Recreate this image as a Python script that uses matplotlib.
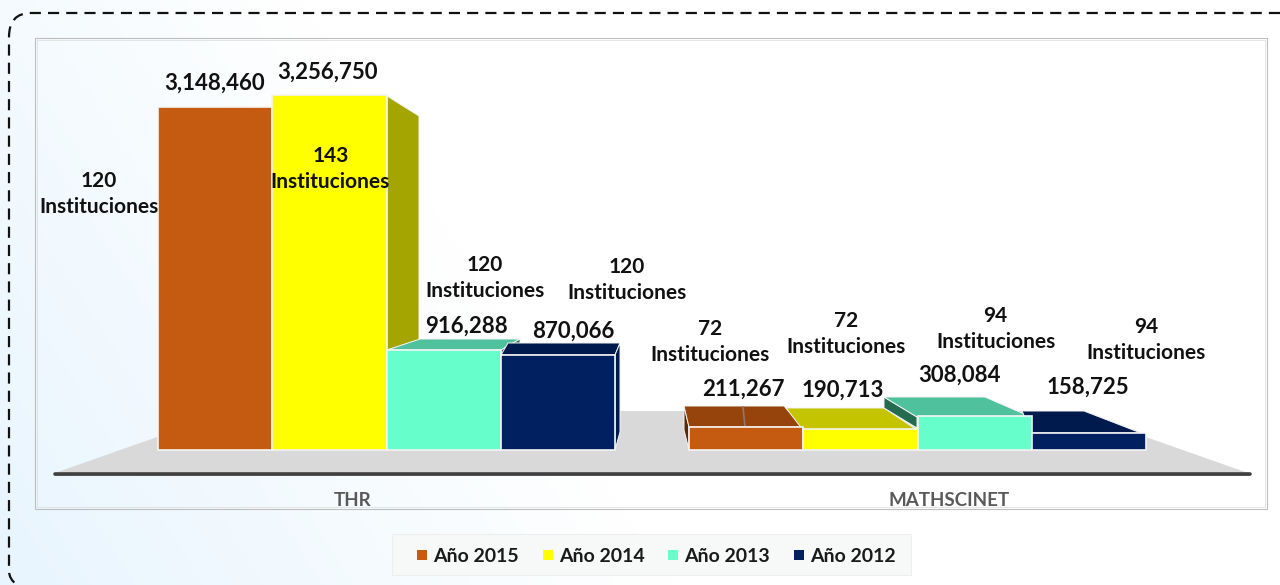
import numpy as np
import matplotlib
matplotlib.use("Agg")
import matplotlib.pyplot as plt
from matplotlib.patches import Polygon, Rectangle, PathPatch
from matplotlib.path import Path
from matplotlib.colors import LinearSegmentedColormap

# Chart data
categories = ["THR", "MATHSCINET"]
years = ["Año 2015", "Año 2014", "Año 2013", "Año 2012"]
thr_values = [3148460, 3256750, 916288, 870066]
math_values = [211267, 190713, 308084, 158725]
thr_inst = [120, 143, 120, 120]
math_inst = [72, 72, 94, 94]

colors = ["#c55a11", "#ffff00", "#66ffcc", "#002060"]
top_colors = ["#96440c", "#c4c400", "#4fc19c", "#001a4d"]

plt.rcParams["font.family"] = ["Lato", "DejaVu Sans"]

W, H = 1280, 585
UNITS_PER_PX = 9170
BASE_PX = 450
BAR_W = 114.3
group_centers = [386.5, 917.5]

fig = plt.figure(figsize=(W / 100, H / 100), dpi=100)

# Pixel axes for the page decoration and the fake 3D faces
px = fig.add_axes([0, 0, 1, 1])
px.set_xlim(0, W)
px.set_ylim(H, 0)
px.axis("off")

# Data axes for the front faces: x in pixels, y in values
ax = fig.add_axes([0, 0, 1, 1], facecolor="none", zorder=2)
ax.set_xlim(0, W)
ax.set_ylim(-(H - BASE_PX) * UNITS_PER_PX, BASE_PX * UNITS_PER_PX)
ax.axis("off")

# Top axes so the text sits over the bars
lab = fig.add_axes([0, 0, 1, 1], facecolor="none", zorder=3)
lab.set_xlim(0, W)
lab.set_ylim(H, 0)
lab.axis("off")

# Background gradient, pale blue bottom left to white
gx, gy = np.meshgrid(np.linspace(0, 1, 320), np.linspace(0, 1, 146))
grad = np.clip(1 - (gx * 1.9 + (1 - gy) * 0.55), 0, 1)
cmap = LinearSegmentedColormap.from_list("bg", ["#ffffff", "#e8f5fe"])
px.imshow(grad, extent=(0, W, H, 0), cmap=cmap, aspect="auto", zorder=0)

# Dashed rounded outline, runs off the right and bottom edges
outline = Path([(1280, 13), (31, 13), (9, 13), (9, 37), (9, 571), (9, 579), (17, 585)],
               [Path.MOVETO, Path.LINETO, Path.CURVE3, Path.CURVE3, Path.LINETO, Path.CURVE3, Path.CURVE3])
px.add_patch(PathPatch(outline, fc="none", ec="#111111", lw=1.6, ls=(0, (5, 3.2)), zorder=1))

# Chart frame (double line)
px.add_patch(Rectangle((35, 38), 1232, 471, fc="none", ec="#bdbdbd", lw=0.8, zorder=1))
px.add_patch(Rectangle((37, 40), 1228, 467, fc="none", ec="#e0e0e0", lw=0.6, zorder=1))

# Floor and axis line
px.add_patch(Polygon([(55, 473), (231, 411), (1072, 411), (1248, 473)], fc="#d9d9d9", ec="none", zorder=1))
px.plot([55, 1250], [475, 475], color="#9a9a9a", lw=1.2, zorder=1.1, solid_capstyle="round")
px.plot([55, 1250], [473.5, 473.5], color="#404040", lw=2.6, zorder=1.2, solid_capstyle="round")

# Depth faces, all in pixels, drawn behind the front faces
white = "#f4f4f4"
faces = [
    ([(387, 96), (419, 116), (419, 340), (387, 350)], "#a5a500"),
    ([(387, 350), (420, 339), (520, 339), (501, 350)], top_colors[2]),
    ([(501, 350), (520, 339), (520, 343), (501, 355)], "#2a6b50"),
    ([(501, 355), (508, 343), (620, 343), (615, 355)], top_colors[3]),
    ([(615, 355), (620, 343), (620, 432), (615, 450)], "#001a4d"),
    ([(689, 427), (684, 406), (684, 430), (689, 450)], "#5a2a08"),
    ([(689, 427), (684, 406), (784, 406), (803, 427)], top_colors[0]),
    ([(803, 430), (786, 408), (884, 408), (917, 430)], top_colors[1]),
    ([(884, 397), (917, 417), (917, 428), (884, 408)], "#256b50"),
    ([(917, 417), (884, 397), (985, 397), (1031, 417)], top_colors[2]),
    ([(1032, 433), (1022, 411), (1084, 411), (1141, 433)], top_colors[3]),
]
for pts, c in faces:
    px.add_patch(Polygon(pts, fc=c, ec=white, lw=0.7, zorder=1.5))
px.plot([743, 745], [407, 427], color="#8a7a70", lw=1.2, zorder=1.6)

# Front faces
offsets = (np.arange(4) - 1.5) * BAR_W
for center, vals in zip(group_centers, [thr_values, math_values]):
    ax.bar(center + offsets, vals, width=BAR_W, color=colors, edgecolor=white, linewidth=1.2, zorder=3)

# Value labels (offset from bar centre / bar top, in pixels)
value_dx = [[-1, -1.5, 23, 15], [-3, -18, -15, -1]]
value_dy = [[-23, -23, -24, -24], [-38, -39, -41, -45]]
# "N Instituciones" label positions (centre x shift, y of the number)
inst_dx = [[-116, 1, 41, 69], [-36, -14, 21, 57]]
inst_y = [[181, 156, 265, 267], [329, 321, 316, 327]]

for g, (center, vals, insts) in enumerate(zip(group_centers, [thr_values, math_values], [thr_inst, math_inst])):
    for i, (v, n) in enumerate(zip(vals, insts)):
        x = center + offsets[i]
        y_top = BASE_PX - v / UNITS_PER_PX
        lab.text(x + value_dx[g][i], y_top + value_dy[g][i], f"{v:,}", ha="center", va="center",
                 fontsize=16, fontweight="bold", color="#111111")
        xt = x + inst_dx[g][i]
        lab.text(xt, inst_y[g][i], str(n), ha="center", va="center",
                 fontsize=15, fontweight="bold", color="#111111")
        lab.text(xt, inst_y[g][i] + 26, "Instituciones", ha="center", va="center",
                 fontsize=15, fontweight="bold", color="#111111")

# Category labels
for lab_name, x in zip(categories, [353, 949]):
    lab.text(x, 501, lab_name, ha="center", va="center", fontsize=13.5, fontweight="bold", color="#595959")

# Legend
px.add_patch(Rectangle((392, 534), 519, 41, fc="#f7f8f8", ec="#eeeeee", lw=0.8, zorder=1))
legend_x = [417, 543, 668, 794]
for name, c, x in zip(years, colors, legend_x):
    px.add_patch(Rectangle((x, 550), 10, 10, fc=c, ec="none", zorder=3))
    lab.text(x + 16, 556, name, ha="left", va="center", fontsize=14, fontweight="bold", color="#1a1a1a")

fig.savefig("out.png", dpi=100)
